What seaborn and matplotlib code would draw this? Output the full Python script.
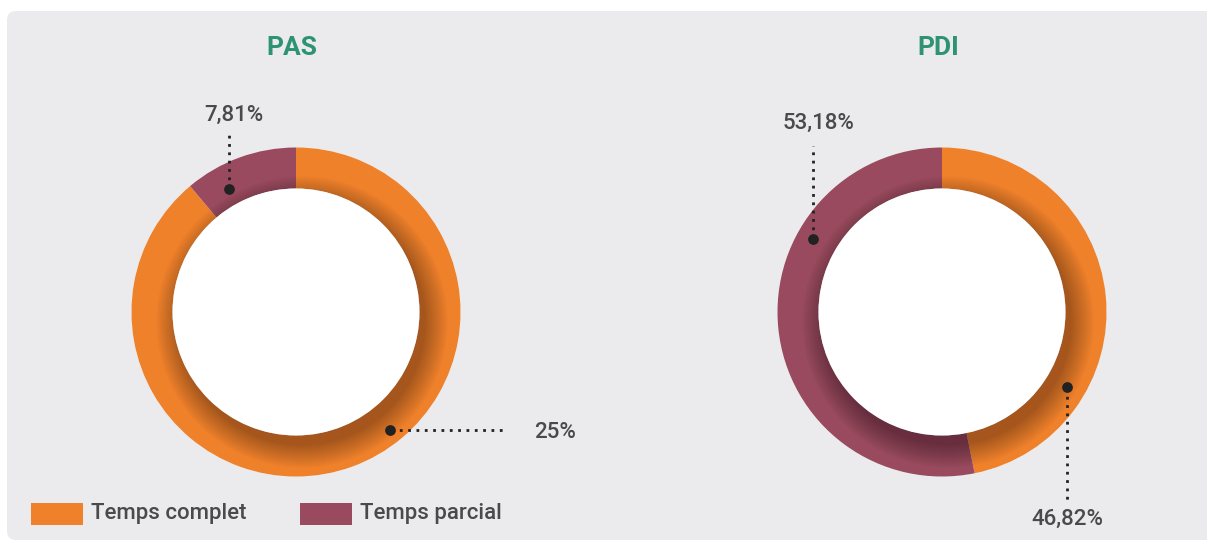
import numpy as np
import matplotlib
matplotlib.use("Agg")
import matplotlib.pyplot as plt
from matplotlib.patches import Circle, FancyBboxPatch, Rectangle
import seaborn as sns

# ==========================================
# Data
# ==========================================
categories = ["Temps complet", "Temps parcial"]
pas_values = [88.87, 11.13]
pdi_values = [46.82, 53.18]
pas_labels = ["25%", "7,81%"]
pdi_labels = ["46,82%", "53,18%"]
chart_titles = ["PAS", "PDI"]

colors = sns.color_palette(["#F0812B", "#994A5E"])

sns.set_theme(style="white")
plt.rcParams["font.family"] = ["Roboto", "DejaVu Sans"]

W, H = 1207, 541
fig = plt.figure(figsize=(W / 100, H / 100), dpi=100)
ax = fig.add_axes([0, 0, 1, 1])

# panel background
panel = FancyBboxPatch((7, 1), 1230, 529, boxstyle="round,pad=0,rounding_size=9",
                       facecolor="#EBEBED", edgecolor="none", zorder=0)
ax.add_patch(panel)

R_OUT, R_IN = 164.5, 123.5
centers = [(296, 229), (942, 229)]


def donut(values, center):
    wedges, _ = ax.pie(values, colors=colors, startangle=90, counterclock=False,
                       radius=R_OUT, center=center, frame=True,
                       wedgeprops=dict(width=R_OUT - R_IN, linewidth=0))
    for w in wedges:
        w.set_zorder(1)
    # soft shadow of the inner disc on the ring (mostly lower right)
    clip = Circle(center, R_OUT, transform=ax.transData)
    for k in range(14):
        sh = Circle((center[0] + 6, center[1] - 10), R_IN + 1.7 * k,
                    facecolor="black", edgecolor="none", alpha=0.022, zorder=2)
        ax.add_patch(sh)
        sh.set_clip_path(clip)
    ax.add_patch(Circle(center, R_IN, facecolor="white", edgecolor="none", zorder=3))


for vals, c in zip([pas_values, pdi_values], centers):
    donut(vals, c)

ink = "#222222"
txt = "#4A4A4D"

# titles
for t, c in zip(chart_titles, centers):
    ax.text(c[0] - 4, H - 48, t, ha="center", va="center", fontsize=19,
            fontweight="bold", color="#2E9371", zorder=5)

# PAS annotations
ax.plot([229, 229], [H - 188, H - 131], ls=(0, (1, 2)), lw=2, color=ink, zorder=4)
ax.scatter([229], [H - 189], s=45, color=ink, zorder=5)
ax.text(234, H - 115, pas_labels[1], ha="center", va="center", fontsize=16,
        fontweight="medium", color=txt)

ax.plot([391, 505], [H - 430, H - 430], ls=(0, (1, 2)), lw=2, color=ink, zorder=4)
ax.scatter([390], [H - 430], s=45, color=ink, zorder=5)
ax.text(555, H - 432, pas_labels[0], ha="center", va="center", fontsize=16,
        fontweight="medium", color=txt)

# PDI annotations
ax.plot([813, 813], [H - 238, H - 146], ls=(0, (1, 2)), lw=2, color=ink, zorder=4)
ax.scatter([813], [H - 239], s=45, color=ink, zorder=5)
ax.text(818, H - 123, pdi_labels[1], ha="center", va="center", fontsize=16,
        fontweight="medium", color=txt)

ax.plot([1067, 1067], [H - 388, H - 500], ls=(0, (1, 2)), lw=2, color=ink, zorder=4)
ax.scatter([1067], [H - 387], s=45, color=ink, zorder=5)
ax.text(1067, H - 519, pdi_labels[0], ha="center", va="center", fontsize=16,
        fontweight="medium", color=txt)

# legend
for (x0, lab), col in zip([(31, categories[0]), (300, categories[1])], colors):
    ax.add_patch(Rectangle((x0, H - 525), 52, 22, facecolor=col, edgecolor="none", zorder=5))
    ax.text(x0 + 60, H - 514, lab, ha="left", va="center", fontsize=16,
            fontweight="medium", color=txt)

ax.set_xlim(0, W)
ax.set_ylim(0, H)
ax.set_aspect("equal")
ax.axis("off")

fig.savefig("out.png", dpi=100, facecolor="white")
